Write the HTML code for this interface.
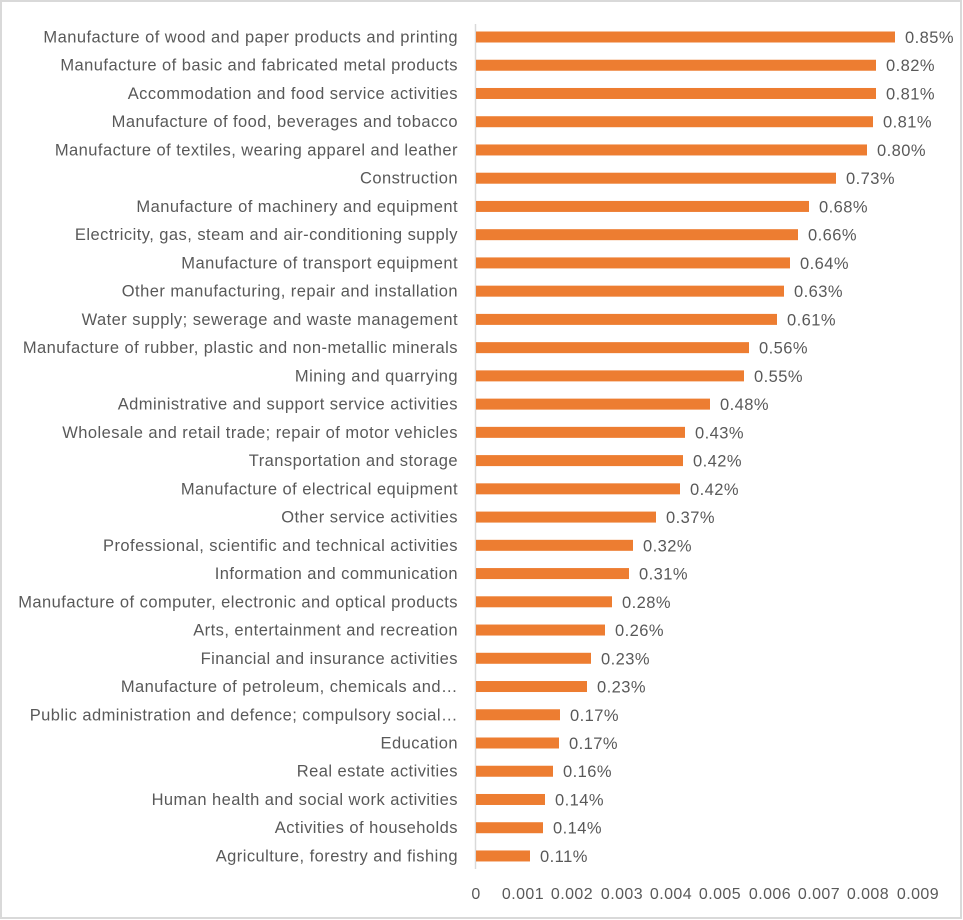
<!DOCTYPE html>
<html><head><meta charset="utf-8"><style>
html,body{margin:0;padding:0;background:#fff;}
svg{display:block;}
text{font-family:"Liberation Sans",sans-serif;fill:#595959;letter-spacing:0.45px;}
</style></head><body>
<svg width="963" height="920" xmlns="http://www.w3.org/2000/svg">
<rect x="1" y="1" width="960" height="917" fill="#fff" stroke="#d9d9d9" stroke-width="2"/>
<line x1="475.5" y1="24" x2="475.5" y2="869" stroke="#d9d9d9" stroke-width="1.5"/>
<g id="bars"></g>
<g font-size="16" text-anchor="middle">
<text x="476" y="899">0</text>
<text x="523" y="899">0.001</text>
<text x="572" y="899">0.002</text>
<text x="622" y="899">0.003</text>
<text x="671" y="899">0.004</text>
<text x="720" y="899">0.005</text>
<text x="770" y="899">0.006</text>
<text x="819" y="899">0.007</text>
<text x="868" y="899">0.008</text>
<text x="918" y="899">0.009</text>
</g>
<script>
var d=[["Manufacture of wood and paper products and printing",895,"0.85%"],
["Manufacture of basic and fabricated metal products",876,"0.82%"],
["Accommodation and food service activities",876,"0.81%"],
["Manufacture of food, beverages and tobacco",873,"0.81%"],
["Manufacture of textiles, wearing apparel and leather",867,"0.80%"],
["Construction",836,"0.73%"],
["Manufacture of machinery and equipment",809,"0.68%"],
["Electricity, gas, steam and air-conditioning supply",798,"0.66%"],
["Manufacture of transport equipment",790,"0.64%"],
["Other manufacturing, repair and installation",784,"0.63%"],
["Water supply; sewerage and waste management",777,"0.61%"],
["Manufacture of rubber, plastic and non-metallic minerals",749,"0.56%"],
["Mining and quarrying",744,"0.55%"],
["Administrative and support service activities",710,"0.48%"],
["Wholesale and retail trade; repair of motor vehicles",685,"0.43%"],
["Transportation and storage",683,"0.42%"],
["Manufacture of electrical equipment",680,"0.42%"],
["Other service activities",656,"0.37%"],
["Professional, scientific and technical activities",633,"0.32%"],
["Information and communication",629,"0.31%"],
["Manufacture of computer, electronic and optical products",612,"0.28%"],
["Arts, entertainment and recreation",605,"0.26%"],
["Financial and insurance activities",591,"0.23%"],
["Manufacture of petroleum, chemicals and…",587,"0.23%"],
["Public administration and defence; compulsory social…",560,"0.17%"],
["Education",559,"0.17%"],
["Real estate activities",553,"0.16%"],
["Human health and social work activities",545,"0.14%"],
["Activities of households",543,"0.14%"],
["Agriculture, forestry and fishing",530,"0.11%"]];
var ns="http://www.w3.org/2000/svg",g=document.getElementById("bars");
d.forEach(function(r,i){var c=37+i*28.24;
var b=document.createElementNS(ns,"rect");b.setAttribute("x",476);b.setAttribute("y",c-5.5);b.setAttribute("width",r[1]-476);b.setAttribute("height",11);b.setAttribute("fill","#ed7d31");g.appendChild(b);
var t=document.createElementNS(ns,"text");t.setAttribute("x",458);t.setAttribute("y",c+5.5);t.setAttribute("font-size","16.5");t.setAttribute("text-anchor","end");t.textContent=r[0];g.appendChild(t);
var v=document.createElementNS(ns,"text");v.setAttribute("x",r[1]+10);v.setAttribute("y",c+6);v.setAttribute("font-size","16.5");v.textContent=r[2];g.appendChild(v);});
</script>
</svg>
</body></html>
